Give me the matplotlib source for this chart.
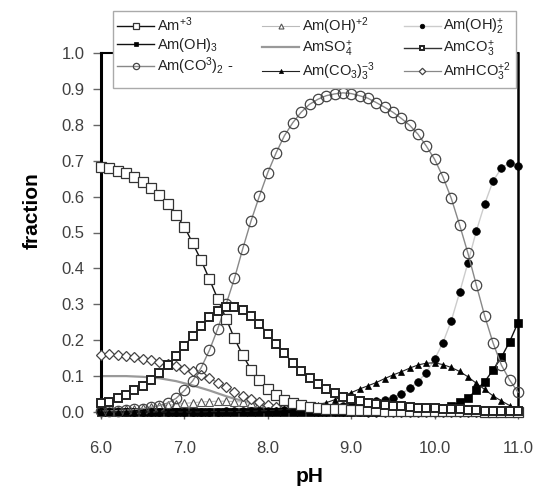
import numpy as np
import matplotlib
matplotlib.use("Agg")
import matplotlib.pyplot as plt

plt.rcParams["font.family"] = ["Liberation Sans", "DejaVu Sans"]
plt.rcParams["mathtext.fontset"] = "custom"
plt.rcParams["mathtext.rm"] = "Liberation Sans"
plt.rcParams["mathtext.it"] = "Liberation Sans:italic"
plt.rcParams["mathtext.bf"] = "Liberation Sans:bold"

# pH grid: 6.0 to 11.0 in steps of 0.1
ph = np.round(np.arange(6.0, 11.0001, 0.1), 1)

am3 = [0.682, 0.679, 0.672, 0.665, 0.654, 0.642, 0.623, 0.604, 0.579, 0.549,
       0.516, 0.470, 0.423, 0.370, 0.315, 0.260, 0.205, 0.158, 0.118, 0.088,
       0.063, 0.046, 0.034, 0.025, 0.019, 0.014, 0.011, 0.009, 0.008, 0.007,
       0.006, 0.006, 0.005, 0.005, 0.004, 0.004, 0.004, 0.003, 0.003, 0.003,
       0.003, 0.002, 0.002, 0.002, 0.002, 0.002, 0.001, 0.001, 0.001, 0.001,
       0.001]
am_oh_2 = [0.004, 0.005, 0.006, 0.008, 0.009, 0.011, 0.013, 0.016, 0.019, 0.021,
           0.024, 0.026, 0.028, 0.029, 0.030, 0.030, 0.029, 0.028, 0.026, 0.024,
           0.021, 0.018, 0.016, 0.013, 0.011, 0.009, 0.008, 0.006, 0.005, 0.004,
           0.004, 0.003, 0.003, 0.003, 0.002, 0.002, 0.002, 0.002, 0.002, 0.002,
           0.002, 0.002, 0.002, 0.002, 0.002, 0.002, 0.001, 0.001, 0.001, 0.001,
           0.001]
am_oh2 = [0.001, 0.001, 0.001, 0.001, 0.001, 0.001, 0.001, 0.001, 0.001, 0.001,
          0.001, 0.001, 0.001, 0.001, 0.001, 0.002, 0.002, 0.002, 0.002, 0.003,
          0.003, 0.004, 0.005, 0.006, 0.007, 0.008, 0.010, 0.012, 0.015, 0.018,
          0.021, 0.024, 0.027, 0.030, 0.034, 0.040, 0.050, 0.066, 0.084, 0.110,
          0.147, 0.193, 0.254, 0.333, 0.416, 0.504, 0.579, 0.643, 0.679, 0.694,
          0.686]
am_oh3 = [0.001] * 36 + [0.003, 0.004, 0.005, 0.007,
                         0.009, 0.012, 0.017, 0.027, 0.038, 0.062, 0.084, 0.117,
                         0.152, 0.196, 0.249]
amso4 = [0.100, 0.100, 0.100, 0.100, 0.099, 0.098, 0.096, 0.094, 0.090, 0.086,
         0.080, 0.074, 0.067, 0.060, 0.052, 0.044, 0.037, 0.031, 0.025, 0.020,
         0.016, 0.013, 0.010, 0.008, 0.006, 0.005, 0.004, 0.003, 0.002, 0.002,
         0.001, 0.001, 0.001, 0.001, 0.001, 0.001, 0.001, 0.000, 0.000, 0.000,
         0.000, 0.000, 0.000, 0.000, 0.000, 0.000, 0.000, 0.000, 0.000, 0.000,
         0.000]
amco3 = [0.024, 0.029, 0.038, 0.048, 0.060, 0.073, 0.090, 0.110, 0.132, 0.157,
         0.185, 0.212, 0.240, 0.264, 0.282, 0.292, 0.293, 0.285, 0.268, 0.245,
         0.218, 0.190, 0.163, 0.137, 0.114, 0.095, 0.078, 0.064, 0.052, 0.043,
         0.036, 0.030, 0.026, 0.022, 0.020, 0.018, 0.016, 0.014, 0.012, 0.011,
         0.010, 0.009, 0.008, 0.007, 0.006, 0.005, 0.004, 0.003, 0.003, 0.002,
         0.002]
am_co3_2 = [0.002, 0.003, 0.004, 0.005, 0.007, 0.009, 0.013, 0.018, 0.025, 0.038,
            0.060, 0.087, 0.123, 0.172, 0.232, 0.300, 0.372, 0.455, 0.533, 0.602,
            0.667, 0.722, 0.770, 0.806, 0.835, 0.857, 0.871, 0.881, 0.886, 0.889,
            0.887, 0.881, 0.874, 0.862, 0.849, 0.835, 0.818, 0.799, 0.774, 0.741,
            0.704, 0.655, 0.595, 0.521, 0.442, 0.354, 0.268, 0.193, 0.131, 0.089,
            0.055]
am_co3_3 = [0.000, 0.000, 0.000, 0.000, 0.000, 0.000, 0.000, 0.000, 0.000, 0.000,
            0.000, 0.000, 0.000, 0.001, 0.001, 0.001, 0.001, 0.002, 0.002, 0.003,
            0.004, 0.005, 0.007, 0.009, 0.012, 0.015, 0.020, 0.026, 0.034, 0.044,
            0.054, 0.064, 0.073, 0.082, 0.093, 0.103, 0.112, 0.122, 0.131, 0.136,
            0.137, 0.132, 0.124, 0.113, 0.098, 0.080, 0.063, 0.045, 0.031, 0.018,
            0.008]
amhco3 = [0.159, 0.161, 0.160, 0.157, 0.153, 0.149, 0.145, 0.140, 0.135, 0.129,
          0.121, 0.113, 0.104, 0.094, 0.082, 0.069, 0.056, 0.045, 0.035, 0.027,
          0.020, 0.015, 0.011, 0.008, 0.006, 0.005, 0.004, 0.003, 0.003, 0.002,
          0.002, 0.002, 0.001, 0.001, 0.001, 0.001, 0.001, 0.001, 0.001, 0.001,
          0.001, 0.001, 0.001, 0.001, 0.000, 0.000, 0.000, 0.000, 0.000, 0.000,
          0.000]

x_ticks = [6.0, 7.0, 8.0, 9.0, 10.0, 11.0]
y_ticks = [0.0, 0.1, 0.2, 0.3, 0.4, 0.5, 0.6, 0.7, 0.8, 0.9, 1.0]

fig = plt.figure(figsize=(5.34, 4.87), dpi=100)
ax = fig.add_axes([101 / 534, 1 - 412 / 487, 417 / 534, 359 / 487])

common = dict(clip_on=False)
h_am3, = ax.plot(ph, am3, color="#111111", lw=1.0, marker="s", ms=7,
                 mfc="white", mec="#333333", mew=0.9, zorder=5, **common)
h_oh_2, = ax.plot(ph, am_oh_2, color="#bbbbbb", lw=0.8, marker="^", ms=6,
                  mfc="white", mec="#555555", mew=0.8, zorder=3, **common)
h_oh2, = ax.plot(ph, am_oh2, color="#cccccc", lw=1.0, marker="o", ms=5.5,
                 mfc="black", mec="black", mew=0.5, zorder=4, **common)
h_oh3, = ax.plot(ph, am_oh3, color="#111111", lw=1.0, marker="s", ms=5.5,
                 mfc="black", mec="black", mew=0.5, zorder=4, **common)
h_so4, = ax.plot(ph, amso4, color="#999999", lw=1.6, zorder=2, **common)
h_co3, = ax.plot(ph, amco3, color="#333333", lw=1.0, marker="s", ms=5.5,
                 mfc="white", mec="#222222", mew=1.4, zorder=5, **common)
h_co3_2, = ax.plot(ph, am_co3_2, color="#888888", lw=1.0, marker="o", ms=7.5,
                   mfc="none", mec="#444444", mew=0.9, zorder=4, **common)
h_co3_3, = ax.plot(ph, am_co3_3, color="#222222", lw=0.8, marker="^", ms=5,
                   mfc="black", mec="black", mew=0.5, zorder=4, **common)
h_hco3, = ax.plot(ph, amhco3, color="#888888", lw=0.9, marker="D", ms=5.5,
                  mfc="white", mec="#444444", mew=0.9, zorder=3, **common)

ax.set_xlim(6.0, 11.0)
ax.set_ylim(0.0, 1.0)
ax.set_xticks(x_ticks)
ax.set_xticklabels([f"{v:.1f}" for v in x_ticks])
ax.set_yticks(y_ticks)
ax.set_yticklabels([f"{v:.1f}" for v in y_ticks])
ax.tick_params(axis="x", direction="out", length=5, width=1, color="#666666",
               pad=16, labelsize=12, labelcolor="#404040")
ax.tick_params(axis="y", direction="out", length=6, width=1, color="#666666",
               pad=6, labelsize=12, labelcolor="#404040")
for side in ["left", "right", "top", "bottom"]:
    ax.spines[side].set_color("black")
ax.spines["left"].set_linewidth(2.2)
ax.spines["right"].set_linewidth(1.8)
ax.spines["top"].set_linewidth(1.5)
ax.spines["bottom"].set_linewidth(1.0)

ax.set_xlabel("pH", fontsize=15, fontweight="bold")
ax.set_ylabel("fraction", fontsize=15, fontweight="bold")
ax.xaxis.set_label_coords(0.501, -0.152)
ax.yaxis.set_label_coords(-0.142, 0.56)

handles = [h_am3, h_oh3, h_co3_2, h_oh_2, h_so4, h_co3_3, h_oh2, h_co3, h_hco3]
labels = [
    r"Am$\mathregular{^{+3}}$",
    r"Am(OH)$\mathregular{_3}$",
    r"Am(CO$\mathregular{^{3}}$)$\mathregular{_2}$ -",
    r"Am(OH)$\mathregular{^{+2}}$",
    r"AmSO$\mathregular{_4^{+}}$",
    r"Am(CO$\mathregular{_3}$)$\mathregular{_3^{-3}}$",
    r"Am(OH)$\mathregular{_2^{+}}$",
    r"AmCO$\mathregular{_3^{+}}$",
    r"AmHCO$\mathregular{_3^{+2}}$",
]
leg = fig.legend(handles, labels, ncol=3, loc="upper left",
                 bbox_to_anchor=(113 / 534, 1 - 11 / 487), fontsize=10.5,
                 numpoints=1, markerscale=0.6, handlelength=2.5,
                 handletextpad=0.2, columnspacing=2.0, labelspacing=0.12,
                 borderpad=0.3, borderaxespad=0, fancybox=False,
                 framealpha=1, edgecolor="#aaaaaa")
leg.get_frame().set_linewidth(1.0)
for t in leg.get_texts():
    t.set_color("#222222")

fig.savefig("out.png", dpi=100)
